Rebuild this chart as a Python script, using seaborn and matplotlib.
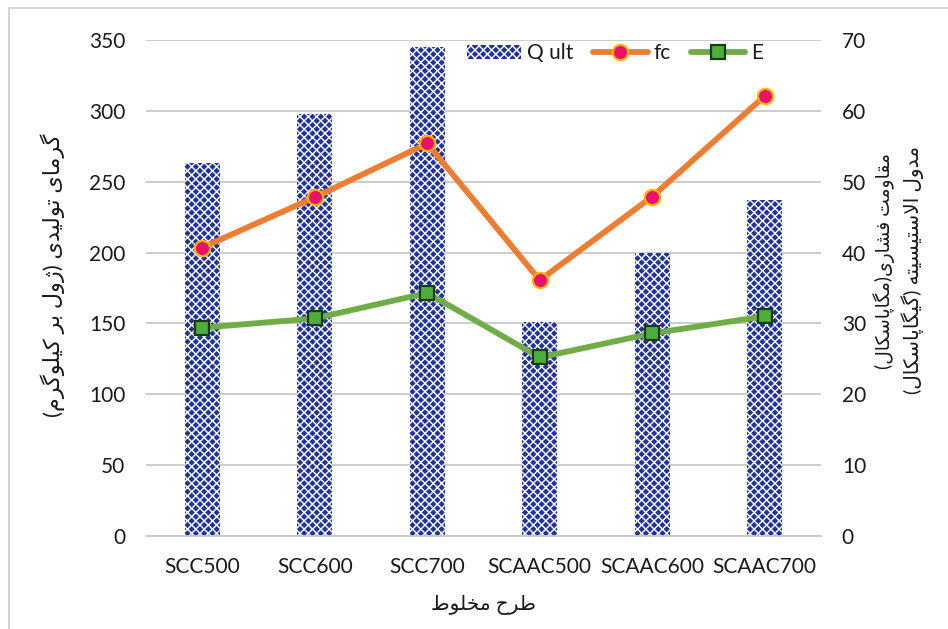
import numpy as np
import pandas as pd
import matplotlib
matplotlib.use("Agg")
import matplotlib.pyplot as plt
from matplotlib.patches import Patch, Rectangle
from matplotlib.lines import Line2D
import seaborn as sns

# ---- data -------------------------------------------------------------
mixes = ["SCC500", "SCC600", "SCC700", "SCAAC500", "SCAAC600", "SCAAC700"]
q_ult = [263, 298, 345, 151, 200, 237]          # heat of hydration (J/kg)
fc = [40.7, 47.8, 55.4, 36.1, 47.9, 62.1]        # compressive strength (MPa)
E = [29.4, 30.7, 34.3, 25.2, 28.6, 31.0]         # elastic modulus (GPa)

left_ticks = [0, 50, 100, 150, 200, 250, 300, 350]
right_ticks = [0, 10, 20, 30, 40, 50, 60, 70]

xlabel_fa = "طرح مخلوط"
ylabel_left_fa = "گرمای تولیدی (ژول بر کیلوگرم)"
ylabel_right_fa = ["مقاومت فشاری(مگاپاسکال)", "مدول الاستیسیته (گیگاپاسکال)"]
legend_labels = ["Q ult", "fc", "E"]

# ---- minimal Persian shaping (presentation forms + visual order) -------
_FORMS = {
    # letter: (isolated, final, initial, medial)
    "\u0627": ("\uFE8D", "\uFE8E", None, None),
    "\u0622": ("\uFE81", "\uFE82", None, None),
    "\u0628": ("\uFE8F", "\uFE90", "\uFE91", "\uFE92"),
    "\u067E": ("\uFB56", "\uFB57", "\uFB58", "\uFB59"),
    "\u062A": ("\uFE95", "\uFE96", "\uFE97", "\uFE98"),
    "\u062B": ("\uFE99", "\uFE9A", "\uFE9B", "\uFE9C"),
    "\u062C": ("\uFE9D", "\uFE9E", "\uFE9F", "\uFEA0"),
    "\u062D": ("\uFEA1", "\uFEA2", "\uFEA3", "\uFEA4"),
    "\u062E": ("\uFEA5", "\uFEA6", "\uFEA7", "\uFEA8"),
    "\u062F": ("\uFEA9", "\uFEAA", None, None),
    "\u0630": ("\uFEAB", "\uFEAC", None, None),
    "\u0631": ("\uFEAD", "\uFEAE", None, None),
    "\u0632": ("\uFEAF", "\uFEB0", None, None),
    "\u0698": ("\uFB8A", "\uFB8B", None, None),
    "\u0633": ("\uFEB1", "\uFEB2", "\uFEB3", "\uFEB4"),
    "\u0634": ("\uFEB5", "\uFEB6", "\uFEB7", "\uFEB8"),
    "\u0637": ("\uFEC1", "\uFEC2", "\uFEC3", "\uFEC4"),
    "\u0639": ("\uFEC9", "\uFECA", "\uFECB", "\uFECC"),
    "\u0641": ("\uFED1", "\uFED2", "\uFED3", "\uFED4"),
    "\u0642": ("\uFED5", "\uFED6", "\uFED7", "\uFED8"),
    "\u06A9": ("\uFB8E", "\uFB8F", "\uFB90", "\uFB91"),
    "\u06AF": ("\uFB92", "\uFB93", "\uFB94", "\uFB95"),
    "\u0644": ("\uFEDD", "\uFEDE", "\uFEDF", "\uFEE0"),
    "\u0645": ("\uFEE1", "\uFEE2", "\uFEE3", "\uFEE4"),
    "\u0646": ("\uFEE5", "\uFEE6", "\uFEE7", "\uFEE8"),
    "\u0648": ("\uFEED", "\uFEEE", None, None),
    "\u0647": ("\uFEE9", "\uFEEA", "\uFEEB", "\uFEEC"),
    "\u06CC": ("\uFBFC", "\uFBFD", "\uFBFE", "\uFBFF"),
}


def _joins_forward(ch):
    return ch in _FORMS and _FORMS[ch][2] is not None


def shape_fa(text):
    chars = list(text)
    n = len(chars)
    out = []
    i = 0
    while i < n:
        c = chars[i]
        if c not in _FORMS:
            out.append(c)
            i += 1
            continue
        prev = chars[i - 1] if i > 0 else ""
        link_prev = _joins_forward(prev)
        if c == "\u0644" and i + 1 < n and chars[i + 1] == "\u0627":
            out.append("\uFEFC" if link_prev else "\uFEFB")
            i += 2
            continue
        nxt = chars[i + 1] if i + 1 < n else ""
        link_next = _joins_forward(c) and nxt in _FORMS
        iso, fin, ini, med = _FORMS[c]
        if link_prev and link_next:
            out.append(med)
        elif link_prev:
            out.append(fin)
        elif link_next:
            out.append(ini)
        else:
            out.append(iso)
        i += 1
    visual = "".join(reversed(out))
    return visual.translate(str.maketrans("()", ")("))


# ---- styling ------------------------------------------------------------
sns.set_theme(style="white")
plt.rcParams["font.family"] = ["Lato", "DejaVu Sans"]
plt.rcParams["hatch.linewidth"] = 1.0

BAR_BLUE = "#22349A"
FC_LINE = "#ED7D31"
FC_FACE = "#E8116C"
FC_EDGE = "#FFB000"
E_LINE = "#70AD47"
E_FACE = "#4CAF3C"
E_EDGE = "#1E3A14"
GRID = "#C8C8C8"
TXT = "#1A1A1A"
TICK_FS = 15

W, H = 948, 629
fig = plt.figure(figsize=(W / 100, H / 100), dpi=100)
ax = fig.add_axes([146 / W, 1 - 536 / H, 675 / W, 496 / H])

df = pd.DataFrame({"mix": mixes, "q": q_ult, "fc": fc, "E": E})

sns.barplot(data=df, x="mix", y="q", ax=ax, color=BAR_BLUE, saturation=1,
            width=0.31, hatch="xxxx", edgecolor="white", linewidth=0, zorder=2)

ax.set_xlim(-0.5, len(mixes) - 0.5)
ax.set_ylim(0, 350)
ax.set_yticks(left_ticks)
ax.yaxis.grid(True, color=GRID, lw=1.3)
ax.set_axisbelow(True)
for side in ["left", "right", "top"]:
    ax.spines[side].set_visible(False)
ax.spines["bottom"].set_color(GRID)
ax.spines["bottom"].set_linewidth(1.3)
ax.spines["bottom"].set_zorder(3)
ax.tick_params(axis="both", length=0, labelsize=TICK_FS, colors=TXT)
ax.tick_params(axis="y", pad=15)
ax.tick_params(axis="x", pad=15)
ax.set_xlabel("")
ax.set_ylabel("")

ax2 = ax.twinx()
sns.lineplot(data=df, x="mix", y="fc", ax=ax2, sort=False, color=FC_LINE,
             lw=4.2, marker="o", markersize=11, markerfacecolor=FC_FACE,
             markeredgecolor=FC_EDGE, markeredgewidth=1.6, legend=False)
sns.lineplot(data=df, x="mix", y="E", ax=ax2, sort=False, color=E_LINE,
             lw=4.2, marker="s", markersize=10.5, markerfacecolor=E_FACE,
             markeredgecolor=E_EDGE, markeredgewidth=1.6, legend=False)
ax2.set_ylim(0, 70)
ax2.set_yticks(right_ticks)
ax2.grid(False)
for side in ["left", "right", "top", "bottom"]:
    ax2.spines[side].set_visible(False)
ax2.tick_params(axis="y", length=0, labelsize=TICK_FS, colors=TXT, pad=15)
ax2.set_xlabel("")
ax2.set_ylabel("")
ax.set_xlim(-0.5, len(mixes) - 0.5)

# ---- legend -------------------------------------------------------------
handles = [
    Patch(facecolor=BAR_BLUE, edgecolor="white", hatch="xxxx", linewidth=0),
    Line2D([], [], color=FC_LINE, lw=4.2, marker="o", markersize=11,
           markerfacecolor=FC_FACE, markeredgecolor=FC_EDGE, markeredgewidth=1.6),
    Line2D([], [], color=E_LINE, lw=4.2, marker="s", markersize=10.5,
           markerfacecolor=E_FACE, markeredgecolor=E_EDGE, markeredgewidth=1.6),
]
leg = ax2.legend(handles, legend_labels, ncol=3, frameon=False, fontsize=TICK_FS,
                 loc="center right", bbox_to_anchor=(782 / W, 1 - 53 / H),
                 bbox_transform=fig.transFigure, handlelength=2.6,
                 handleheight=0.65, handletextpad=0.3, columnspacing=0.95)
for t in leg.get_texts():
    t.set_color(TXT)

# ---- Persian axis titles -----------------------------------------------
fig.text(483 / W, 1 - 605 / H, shape_fa(xlabel_fa), ha="center", va="center",
         fontsize=14.5, color=TXT)
fig.text(53 / W, 1 - 275 / H, shape_fa(ylabel_left_fa), rotation=90,
         ha="center", va="center", fontsize=16, color=TXT)
fig.text(884 / W, 1 - 261 / H, shape_fa(ylabel_right_fa[0]), rotation=90,
         ha="center", va="center", fontsize=13.5, color=TXT)
fig.text(913 / W, 1 - 270 / H, shape_fa(ylabel_right_fa[1]), rotation=90,
         ha="center", va="center", fontsize=14.5, color=TXT)

# chart frame
fig.add_artist(Rectangle((9 / W, -0.05), 1.2, 1 - 8 / H + 0.05,
                         transform=fig.transFigure, fill=False,
                         edgecolor="#D0D0D0", lw=1.3))

fig.savefig("out.png", dpi=100, facecolor="white")
